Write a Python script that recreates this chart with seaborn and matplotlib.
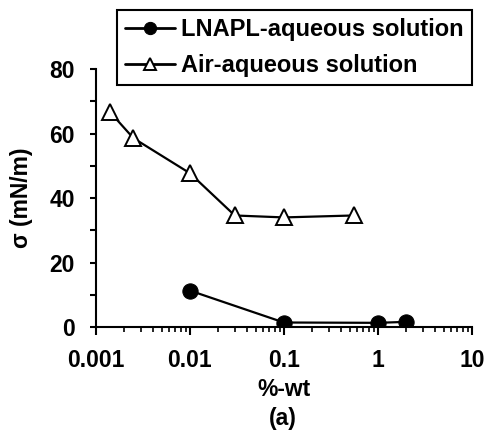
import numpy as np
import pandas as pd
import seaborn as sns
import matplotlib.pyplot as plt
from matplotlib.ticker import FixedLocator, LogLocator, NullFormatter

# interfacial tension vs surfactant concentration
lnapl_wt = [0.01, 0.1, 1, 2]
lnapl_sigma = [11.3, 1.4, 1.3, 1.6]
air_wt = [0.0014, 0.0025, 0.01, 0.03, 0.1, 0.55]
air_sigma = [66.8, 58.6, 47.7, 34.6, 34.0, 34.6]
xticks = [0.001, 0.01, 0.1, 1, 10]
xticklabels = ["0.001", "0.01", "0.1", "1", "10"]
yticks = [0, 20, 40, 60, 80]

sns.set_style("ticks")
plt.rcParams["font.family"] = ["Liberation Sans", "DejaVu Sans"]
plt.rcParams["font.weight"] = "bold"
plt.rcParams["text.color"] = "black"
plt.rcParams["axes.labelcolor"] = "black"
plt.rcParams["xtick.color"] = "black"
plt.rcParams["ytick.color"] = "black"

lnapl = pd.DataFrame({"wt": lnapl_wt, "sigma": lnapl_sigma})
air = pd.DataFrame({"wt": air_wt, "sigma": air_sigma})

fig = plt.figure(figsize=(4.87, 4.32), dpi=100)
ax = fig.add_axes([0.197, 0.243, 0.772, 0.597])

sns.lineplot(data=lnapl, x="wt", y="sigma", ax=ax, color="black", lw=1.6,
             marker="o", markersize=11, markerfacecolor="black",
             markeredgecolor="black", label="LNAPL-aqueous solution")
sns.lineplot(data=air, x="wt", y="sigma", ax=ax, color="black", lw=1.6,
             marker="^", markersize=11, markerfacecolor="white",
             markeredgecolor="black", markeredgewidth=1.4,
             label="Air-aqueous solution")

ax.set_xscale("log")
ax.set_xlim(0.001, 10)
ax.set_ylim(0, 80)
ax.set_xticks(xticks)
ax.set_xticklabels(xticklabels)
ax.xaxis.set_minor_locator(LogLocator(base=10, subs=np.arange(2, 10)))
ax.xaxis.set_minor_formatter(NullFormatter())
ax.set_yticks(yticks)
ax.yaxis.set_minor_locator(FixedLocator([10, 30, 50, 70]))

for s in ["top", "right"]:
    ax.spines[s].set_visible(False)
for s in ["left", "bottom"]:
    ax.spines[s].set_linewidth(1.5)
    ax.spines[s].set_color("black")

ax.tick_params(axis="both", which="major", direction="out", width=1.5,
               labelsize=16.5, colors="black")
ax.tick_params(axis="x", which="major", length=6, pad=10)
ax.tick_params(axis="y", which="major", length=4, pad=11)
ax.tick_params(axis="x", which="minor", direction="out", length=3.5, width=1.2)
ax.tick_params(axis="y", which="minor", direction="out", length=4, width=1.5)
for lab in ax.get_xticklabels() + ax.get_yticklabels():
    lab.set_fontweight("bold")

ax.set_xlabel("%-wt", fontsize=16.5, fontweight="bold", labelpad=4,
              color="black")
ax.set_ylabel("σ (mN/m)", fontsize=16.5, fontweight="bold", labelpad=12,
              color="black")
fig.text(0.580, 0.032, "(a)", ha="center", va="center", fontsize=16.5,
         fontweight="bold", color="black")

leg = ax.legend(loc="upper left", bbox_to_anchor=(0.240, 0.977),
                bbox_transform=fig.transFigure, frameon=True, fancybox=False,
                edgecolor="black", prop={"weight": "bold", "size": 17},
                handlelength=2.1, handletextpad=0.25, borderpad=0.35,
                labelspacing=0.55, borderaxespad=0, markerscale=0.8,
                labelcolor="black")
leg.get_frame().set_linewidth(1.5)
leg.get_frame().set_alpha(1)
for line in leg.get_lines():
    line.set_linewidth(2)

fig.savefig("out.png", dpi=100)
